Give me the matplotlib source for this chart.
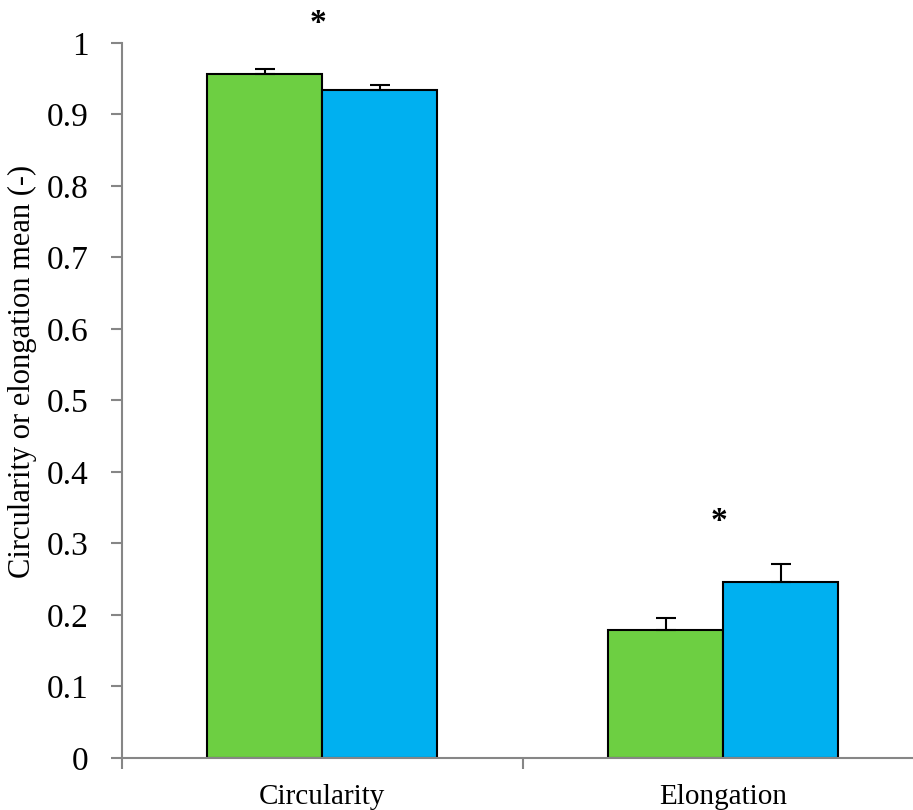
import numpy as np
import matplotlib.pyplot as plt

categories = ["Circularity", "Elongation"]
green_vals = [0.957, 0.179]
green_err = [0.007, 0.017]
blue_vals = [0.934, 0.246]
blue_err = [0.007, 0.025]
star_y = [1.027, 0.33]

plt.rcParams['font.family'] = ['Liberation Serif', 'DejaVu Serif']

fig = plt.figure(figsize=(9.13, 8.10), dpi=100)
ax = fig.add_axes([0.1336, 0.0642, 0.878, 0.883])

x = np.arange(len(categories))
w = 0.287
ax.bar(x - w / 2, green_vals, w, color="#6dcf42", edgecolor="black", linewidth=1.5, zorder=2)
ax.bar(x + w / 2, blue_vals, w, color="#00b0f0", edgecolor="black", linewidth=1.5, zorder=2)
ax.errorbar(x - w / 2, green_vals, yerr=[np.zeros(2), green_err], fmt="none",
            ecolor="black", elinewidth=1.5, capsize=7, capthick=1.5, zorder=3)
ax.errorbar(x + w / 2, blue_vals, yerr=[np.zeros(2), blue_err], fmt="none",
            ecolor="black", elinewidth=1.5, capsize=7, capthick=1.5, zorder=3)

# significance markers
for xi, ys in zip(x, star_y):
    ax.text(xi - 0.01, ys, "*", ha="center", va="center", fontsize=24,
            fontweight="bold", clip_on=False)

ax.set_xlim(-0.5, 1.5)
ax.set_ylim(0, 1)
ax.set_yticks(np.arange(0, 1.01, 0.1))
ax.set_yticklabels(["0", "0.1", "0.2", "0.3", "0.4", "0.5", "0.6", "0.7", "0.8", "0.9", "1"])
ax.set_xticks(x)
ax.set_xticklabels(categories, fontsize=21)
ax.set_xticks([-0.5, 0.5, 1.5], minor=True)
ax.tick_params(axis="x", which="major", length=0, pad=19)
ax.tick_params(axis="x", which="minor", length=8, width=1.5, color="#868686", direction="out")
ax.tick_params(axis="y", length=8, width=1.5, color="#868686", labelsize=24, pad=16)

for s in ["top", "right"]:
    ax.spines[s].set_visible(False)
for s in ["left", "bottom"]:
    ax.spines[s].set_color("#868686")
    ax.spines[s].set_linewidth(1.5)

ax.set_ylabel("Circularity or elongation mean (-)", fontsize=22)
ax.yaxis.set_label_coords(-0.106, 0.54)

fig.savefig("out.png", dpi=100)
